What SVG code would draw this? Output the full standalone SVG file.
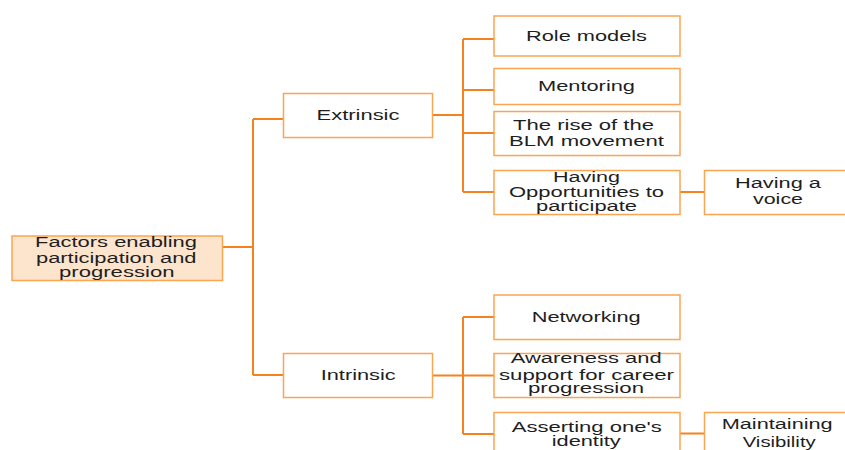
<svg xmlns="http://www.w3.org/2000/svg" width="845" height="450" viewBox="0 0 845 450">
  <style>
    .box { fill: #ffffff; stroke: #f9a552; stroke-width: 1.5; }
    .root { fill: #fde4cd; stroke: #f9a552; stroke-width: 1.5; }
    .wire { fill: none; stroke: #f5821f; stroke-width: 2; }
    text { font-family: "Liberation Sans", Arial, sans-serif; font-size: 14px; fill: #1e1e1e; }
  </style>
  <rect width="845" height="450" fill="#ffffff"/>

  <!-- connectors -->
  <g id="connectors">
    <path class="wire" d="M222.5,247 H253 M253,119 V375 M253,119 H283.5 M253,375 H283.5"/>
    <path class="wire" d="M432.5,115 H463 M463,39 V192 M463,39 H494 M463,90 H494 M463,133 H494 M463,192 H494 M680,192 H704"/>
    <path class="wire" d="M432.5,375.5 H463 M463,317 V434 M463,317 H494 M463,375.5 H494 M463,434 H494 M680,433.5 H704"/>
  </g>

  <g id="root">
    <rect class="root" x="12" y="236" width="210.5" height="44.5"/>
    <text x="35" y="246.7" textLength="162" lengthAdjust="spacingAndGlyphs">Factors enabling</text>
    <text x="36" y="262.7" textLength="160.5" lengthAdjust="spacingAndGlyphs">participation and</text>
    <text x="59" y="276.7" textLength="115.5" lengthAdjust="spacingAndGlyphs">progression</text>
  </g>

  <g id="extrinsic">
    <rect class="box" x="283.5" y="93.5" width="149" height="44"/>
    <text x="316.5" y="120" textLength="83" lengthAdjust="spacingAndGlyphs">Extrinsic</text>
  </g>

  <g id="role-models">
    <rect class="box" x="494" y="16" width="186" height="40"/>
    <text x="526" y="40.7" textLength="121" lengthAdjust="spacingAndGlyphs">Role models</text>
  </g>

  <g id="mentoring">
    <rect class="box" x="494" y="68.5" width="186" height="36"/>
    <text x="538" y="90.7" textLength="97" lengthAdjust="spacingAndGlyphs">Mentoring</text>
  </g>

  <g id="blm">
    <rect class="box" x="494" y="111.5" width="186" height="44"/>
    <text x="513" y="130" textLength="141" lengthAdjust="spacingAndGlyphs">The rise of the</text>
    <text x="509" y="145.7" textLength="155" lengthAdjust="spacingAndGlyphs">BLM movement</text>
  </g>

  <g id="opportunities">
    <rect class="box" x="494" y="170.5" width="186" height="44"/>
    <text x="553" y="181.5" textLength="67" lengthAdjust="spacingAndGlyphs">Having</text>
    <text x="509" y="196.7" textLength="155" lengthAdjust="spacingAndGlyphs">Opportunities to</text>
    <text x="536" y="210.5" textLength="101" lengthAdjust="spacingAndGlyphs">participate</text>
  </g>

  <g id="voice">
    <rect class="box" x="704.5" y="170.5" width="148" height="44"/>
    <text x="735" y="188" textLength="86" lengthAdjust="spacingAndGlyphs">Having a</text>
    <text x="753" y="204" textLength="50" lengthAdjust="spacingAndGlyphs">voice</text>
  </g>

  <g id="intrinsic">
    <rect class="box" x="283.5" y="353.5" width="149" height="44"/>
    <text x="320.7" y="380" textLength="75" lengthAdjust="spacingAndGlyphs">Intrinsic</text>
  </g>

  <g id="networking">
    <rect class="box" x="494" y="295" width="186" height="44.5"/>
    <text x="531.7" y="321.7" textLength="109" lengthAdjust="spacingAndGlyphs">Networking</text>
  </g>

  <g id="awareness">
    <rect class="box" x="494" y="353.5" width="186" height="44"/>
    <text x="510.7" y="363.3" textLength="151" lengthAdjust="spacingAndGlyphs">Awareness and</text>
    <text x="499" y="380" textLength="175" lengthAdjust="spacingAndGlyphs">support for career</text>
    <text x="528" y="393" textLength="116" lengthAdjust="spacingAndGlyphs">progression</text>
  </g>

  <g id="identity">
    <rect class="box" x="494" y="412.5" width="186" height="44"/>
    <text x="511.7" y="431.7" textLength="150" lengthAdjust="spacingAndGlyphs">Asserting one's</text>
    <text x="551.7" y="445.7" textLength="69" lengthAdjust="spacingAndGlyphs">identity</text>
  </g>

  <g id="visibility">
    <rect class="box" x="704.5" y="412.5" width="148" height="44"/>
    <text x="721.7" y="429" textLength="111" lengthAdjust="spacingAndGlyphs">Maintaining</text>
    <text x="742.7" y="446.7" textLength="73" lengthAdjust="spacingAndGlyphs">Visibility</text>
  </g>
</svg>
